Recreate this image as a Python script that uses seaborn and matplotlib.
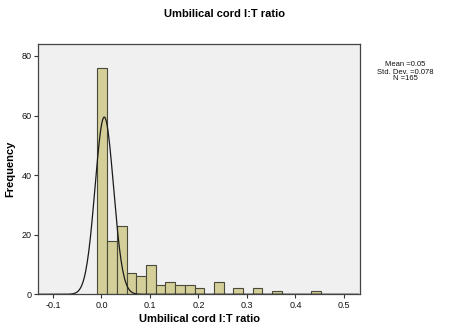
import numpy as np
import pandas as pd
import matplotlib
matplotlib.use('Agg')
import matplotlib.pyplot as plt
import seaborn as sns

# histogram (bin width 0.02)
bin_start = -0.008
bin_width = 0.02
counts = [76, 18, 23, 7, 6, 10, 3, 4, 3, 3, 2, 0, 4, 0, 2, 0, 2, 0, 1, 0, 0, 0, 1]

# normal curve as drawn
curve_mean = 0.006
curve_sd = 0.019
curve_peak = 59.5

stats_text = 'Mean =0.05\nStd. Dev. =0.078\nN =165'
title = 'Umbilical cord I:T ratio'

bin_end = bin_start + bin_width * len(counts)
centers = bin_start + bin_width * (np.arange(len(counts)) + 0.5)
df = pd.DataFrame({'ratio': centers, 'n': counts})

sns.set_style('white')
plt.rcParams['font.family'] = ['Liberation Sans', 'DejaVu Sans']

fig = plt.figure(figsize=(4.5, 3.29), dpi=100)
ax = fig.add_axes([38.3 / 450, 1 - 294.3 / 329, (360 - 38.3) / 450, (294.3 - 44) / 329])
ax.set_facecolor('#F0F0F0')

sns.histplot(data=df, x='ratio', weights='n', binwidth=bin_width,
             binrange=(bin_start, bin_end), ax=ax,
             color='#D4CF98', edgecolor='#4A4A3A', linewidth=0.8, alpha=1)

xs = np.linspace(-0.13, 0.53, 400)
ys = curve_peak * np.exp(-0.5 * ((xs - curve_mean) / curve_sd) ** 2)
sns.lineplot(x=xs, y=ys, ax=ax, color='#1A1A1A', linewidth=0.9)

ax.set_xlim(-0.13, 0.533)
ax.set_ylim(0, 84)
ax.set_xticks([-0.1, 0.0, 0.1, 0.2, 0.3, 0.4, 0.5])
ax.set_xticklabels(['-0.1', '0.0', '0.1', '0.2', '0.3', '0.4', '0.5'])
ax.set_yticks([0, 20, 40, 60, 80])
ax.tick_params(axis='both', direction='out', length=3, width=0.8, labelsize=6.5,
               color='#333333', labelcolor='#111111', pad=2, bottom=True, left=True)
for s in ax.spines.values():
    s.set_color('#444444')
    s.set_linewidth(0.9)

ax.set_xlabel(title, fontsize=8, fontweight='bold', labelpad=3, color='black')
ax.set_ylabel('Frequency', fontsize=8, fontweight='bold', labelpad=4, color='black')
fig.text(0.5, 1 - 14 / 329, title, ha='center', va='center', fontsize=8,
         fontweight='bold', color='black')
fig.text(405 / 450, 1 - 72 / 329, stats_text, ha='center', va='center', fontsize=5.5,
         linespacing=1.0, color='#111111')

fig.savefig('out.png', dpi=100, facecolor='white')
